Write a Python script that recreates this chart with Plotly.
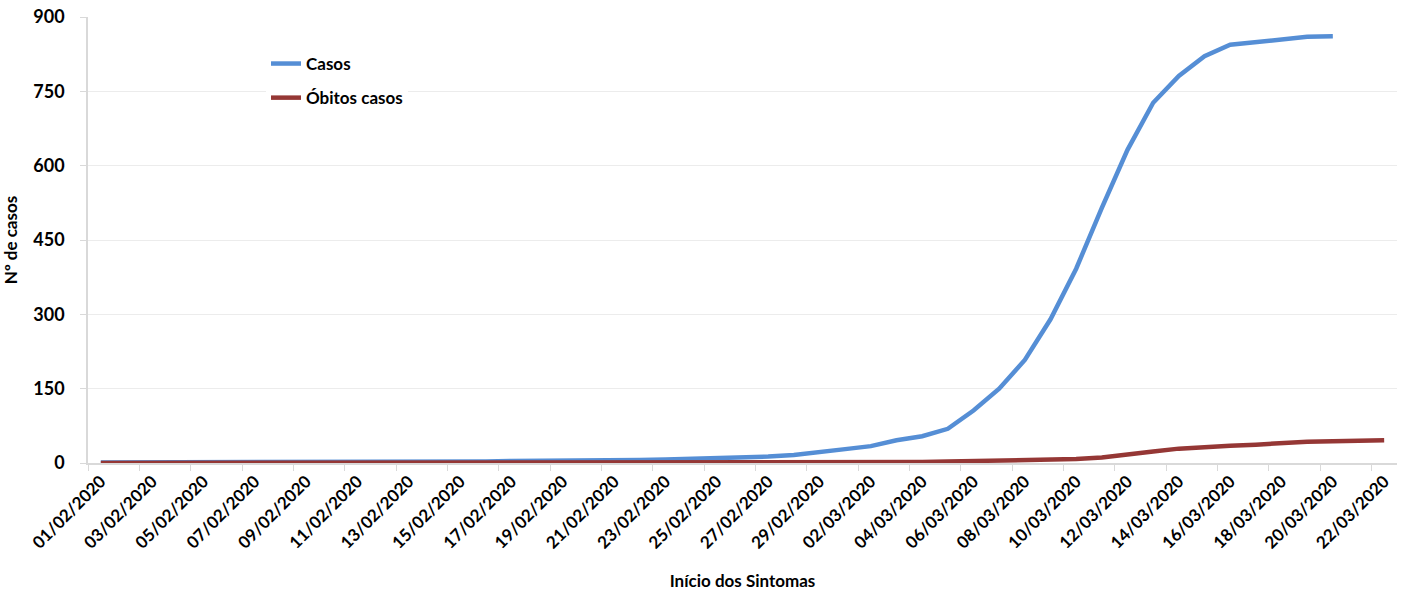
import plotly.graph_objects as go

datas = [
    "01/02/2020", "02/02/2020", "03/02/2020", "04/02/2020", "05/02/2020", "06/02/2020",
    "07/02/2020", "08/02/2020", "09/02/2020", "10/02/2020", "11/02/2020", "12/02/2020",
    "13/02/2020", "14/02/2020", "15/02/2020", "16/02/2020", "17/02/2020", "18/02/2020",
    "19/02/2020", "20/02/2020", "21/02/2020", "22/02/2020", "23/02/2020", "24/02/2020",
    "25/02/2020", "26/02/2020", "27/02/2020", "28/02/2020", "29/02/2020", "01/03/2020",
    "02/03/2020", "03/03/2020", "04/03/2020", "05/03/2020", "06/03/2020", "07/03/2020",
    "08/03/2020", "09/03/2020", "10/03/2020", "11/03/2020", "12/03/2020", "13/03/2020",
    "14/03/2020", "15/03/2020", "16/03/2020", "17/03/2020", "18/03/2020", "19/03/2020",
    "20/03/2020", "21/03/2020", "22/03/2020",
]

casos = [
    1, 1, 1, 1, 1, 1, 1, 1, 1, 2, 2, 2, 3, 3, 3, 3, 4, 4, 4, 4,
    5, 6, 7, 8, 9, 11, 13, 16, 21, 28, 34, 46, 54, 69, 106, 150,
    208, 290, 392, 515, 632, 727, 781, 821, 844, 850, 856, 860, 861,
]

obitos = [
    0, 0, 0, 0, 0, 0, 0, 0, 0, 0, 0, 0, 0, 0, 0, 0, 0, 0, 0, 0,
    0, 0, 0, 0, 0, 1, 1, 1, 1, 1, 2, 2, 2, 3, 4, 4, 5, 6, 8, 11,
    16, 23, 29, 33, 35, 37, 41, 43, 44, 45, 46,
]

y_ticks = [0, 150, 300, 450, 600, 750, 900]

FONT = "Lato"
fig = go.Figure()
fig.add_trace(go.Scatter(
    x=datas[:len(casos)], y=casos, mode="lines", name="Casos",
    line=dict(color="#558ED5", width=4.5), legendgroup="a",
))
fig.add_trace(go.Scatter(
    x=datas, y=obitos, mode="lines", name="Óbitos casos",
    line=dict(color="#953735", width=4.5), legendgroup="b",
))

fig.update_layout(
    width=1401, height=598,
    margin=dict(l=88, r=4, t=17, b=135, autoexpand=False),
    paper_bgcolor="white", plot_bgcolor="white",
    font=dict(family=FONT, size=16, color="#000000", weight="bold"),
    showlegend=True,
    legend=dict(
        x=0.136, y=0.935, xanchor="left", yanchor="top",
        bgcolor="white", font=dict(family=FONT, size=17, color="#000000", weight="bold"),
        tracegroupgap=9, itemwidth=30,
    ),
    xaxis=dict(
        type="category", categoryorder="array", categoryarray=datas,
        range=[-0.5, len(datas) - 0.5], automargin=False,
        tickmode="linear", tick0=0, dtick=2, tickson="boundaries",
        tickangle=-45, ticks="outside", ticklen=6, tickcolor="#d9d9d9",
        showline=True, linecolor="#d9d9d9", linewidth=1.5,
        showgrid=False, zeroline=False, ticklabeloverflow="allow",
        tickfont=dict(family=FONT, size=17, color="#000000", weight="bold"),
        title=dict(text="Início dos Sintomas", standoff=24,
                   font=dict(family=FONT, size=17, color="#000000", weight="bold")),
    ),
    yaxis=dict(
        range=[0, 900], tickvals=y_ticks, automargin=False,
        ticks="outside", ticklen=6, tickcolor="#d9d9d9", ticklabelstandoff=12,
        ticklabeloverflow="allow",
        showline=True, linecolor="#d9d9d9", linewidth=1.5,
        showgrid=True, gridcolor="#ececec", gridwidth=1, zeroline=False,
        tickfont=dict(family=FONT, size=18, color="#000000", weight="bold"),
        title=dict(text="Nº de casos", standoff=11,
                   font=dict(family=FONT, size=17, color="#000000", weight="bold")),
    ),
)

fig.write_html(
    "out.html",
    config={"displayModeBar": False},
    post_script="document.body.style.margin='0';document.body.style.padding='0';",
)
